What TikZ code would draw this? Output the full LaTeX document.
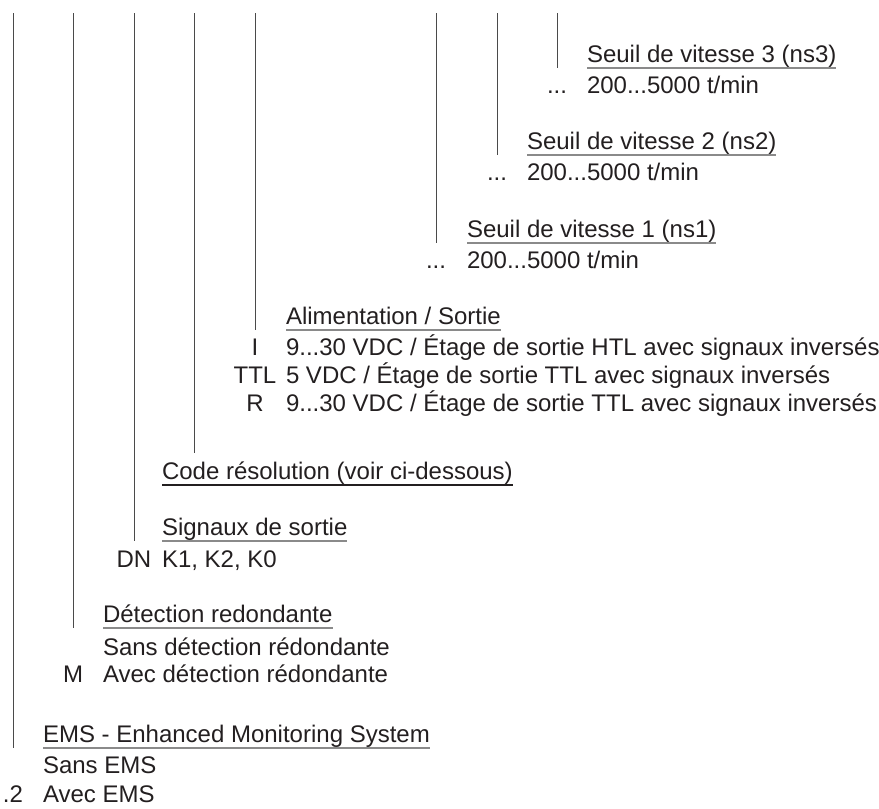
\documentclass[tikz,border=0pt]{standalone}
\usepackage{fontspec}
\setmainfont{Liberation Sans}
\definecolor{txt}{HTML}{231F20}
\definecolor{vline}{HTML}{4A4A4A}
\definecolor{uline}{HTML}{8A8A8A}
\begin{document}
\begin{tikzpicture}[x=1pt,y=-1pt,
  every node/.style={inner sep=0pt,outer sep=0pt,text=txt,font=\fontsize{24}{28}\selectfont},
  head/.style={anchor=base west},
  opt/.style={anchor=base west},
  code/.style={anchor=base},
  vl/.style={draw=vline,line width=1pt},
  ul/.style={draw=uline,line width=1.5pt},
  ulb/.style={draw=txt,line width=1.5pt}]
\useasboundingbox (0,0) rectangle (879,809);
% top coordinates of the vertical lines
\coordinate (t1) at (13,13);
\coordinate (t2) at (73,13);
\coordinate (t3) at (134,13);
\coordinate (t4) at (194,13);
\coordinate (t5) at (255,13);
\coordinate (t6) at (436,13);
\coordinate (t7) at (497,13);
\coordinate (t8) at (557,13);
% Seuil 3
\node[head] (h8) at (587,62) {Seuil de vitesse 3 (ns3)};
\node[code] (c8) at (557,93) {...};
\node[opt] (o8) at (587,93) {200...5000 t/min};
% Seuil 2
\node[head] (h7) at (527,149) {Seuil de vitesse 2 (ns2)};
\node[code] (c7) at (497,180) {...};
\node[opt] (o7) at (527,180) {200...5000 t/min};
% Seuil 1
\node[head] (h6) at (467,237) {Seuil de vitesse 1 (ns1)};
\node[code] (c6) at (436,268) {...};
\node[opt] (o6) at (467,268) {200...5000 t/min};
% Alimentation
\node[head] (h5) at (286,324) {Alimentation / Sortie};
\node[code] (c5a) at (255,355) {I};
\node[opt] (o5a) at (286,355) {9...30 VDC / Étage de sortie HTL avec signaux inversés};
\node[code] (c5b) at (255,383) {TTL};
\node[opt] (o5b) at (286,383) {5 VDC / Étage de sortie TTL avec signaux inversés};
\node[code] (c5c) at (255,411) {R};
\node[opt] (o5c) at (286,411) {9...30 VDC / Étage de sortie TTL avec signaux inversés};
% Code resolution
\node[head] (h4) at (162,479) {Code résolution (voir ci-dessous)};
% Signaux
\node[head] (h3) at (162,535) {Signaux de sortie};
\node[code] (c3) at (134,567) {DN};
\node[opt] (o3) at (162,567) {K1, K2, K0};
% Detection
\node[head] (h2) at (103,622) {Détection redondante};
\node[opt] (o2a) at (103,655) {Sans détection rédondante};
\node[code] (c2b) at (73,682) {M};
\node[opt] (o2b) at (103,682) {Avec détection rédondante};
% EMS
\node[head] (h1) at (43,742) {EMS - Enhanced Monitoring System};
\node[opt] (o1a) at (43,773) {Sans EMS};
\node[code] (c1b) at (13,802) {.2};
\node[opt] (o1b) at (43,802) {Avec EMS};
% underline end points
\foreach \h in {h1,h2,h3,h4,h5,h6,h7,h8}{
  \coordinate (\h w) at ([yshift=-6pt]\h.base west);
  \coordinate (\h e) at ([yshift=-6pt]\h.base east);
}
\coordinate (h4top) at ([yshift=26pt]h4.base west);
% underlines
\foreach \h in {h8,h7,h6,h5,h3,h2,h1}{
  \draw[ul] (\h w) -- (\h e);
}
\draw[ulb] (h4w) -- (h4e);
% vertical lines
\draw[vl] (t8) -- (t8 |- h8w);
\draw[vl] (t7) -- (t7 |- h7w);
\draw[vl] (t6) -- (t6 |- h6w);
\draw[vl] (t5) -- (t5 |- h5w);
\draw[vl] (t4) -- (t4 |- h4top);
\draw[vl] (t3) -- (t3 |- h3w);
\draw[vl] (t2) -- (t2 |- h2w);
\draw[vl] (t1) -- (t1 |- h1w);
\end{tikzpicture}
\end{document}
